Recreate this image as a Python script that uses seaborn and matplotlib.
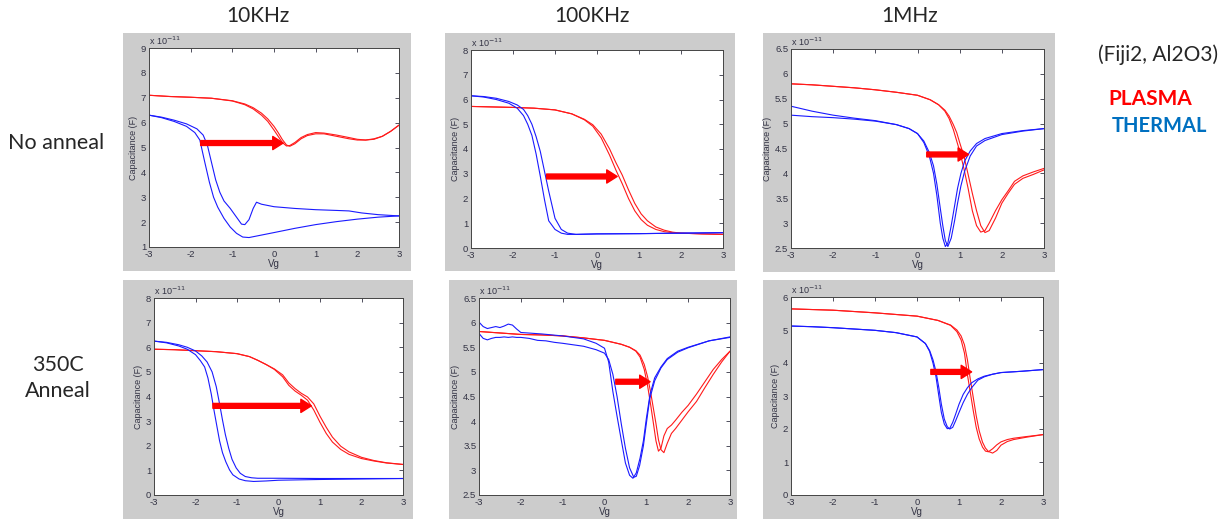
import numpy as np
import pandas as pd
import matplotlib
matplotlib.use('Agg')
import matplotlib.pyplot as plt
import seaborn as sns
from matplotlib.patches import Rectangle
from matplotlib.ticker import FormatStrFormatter

sns.set_style('white')
plt.rcParams['font.family'] = ['Liberation Sans', 'DejaVu Sans']

# ---------------- data (capacitance in units of 1e-11 F) ----------------
col_titles = ['10KHz', '100KHz', '1MHz']
row_titles = ['No anneal', '350C\nAnneal']

# Panel 1: 10KHz, no anneal
p1_red_x = [-3, -2.5, -2, -1.5, -1, -0.7, -0.5, -0.3, -0.15, 0, 0.1, 0.2, 0.3, 0.38, 0.5, 0.65, 0.8, 1.0, 1.2, 1.5, 1.8, 2.0, 2.2, 2.4, 2.6, 2.8, 3.0]
p1_red_a = [7.1, 7.05, 7.02, 6.98, 6.88, 6.75, 6.6, 6.38, 6.15, 5.85, 5.6, 5.32, 5.1, 5.05, 5.15, 5.35, 5.48, 5.55, 5.55, 5.45, 5.35, 5.3, 5.3, 5.35, 5.45, 5.65, 5.9]
p1_red_b = [7.1, 7.05, 7.02, 6.98, 6.87, 6.72, 6.55, 6.3, 6.05, 5.7, 5.45, 5.2, 5.06, 5.08, 5.2, 5.4, 5.52, 5.6, 5.58, 5.5, 5.4, 5.33, 5.3, 5.33, 5.45, 5.65, 5.9]
p1_blue_xa = [-3, -2.7, -2.4, -2.1, -1.9, -1.78, -1.66, -1.55, -1.45, -1.35, -1.2, -1.05, -0.9, -0.75, -0.6, -0.3, 0, 0.5, 1, 1.5, 2, 2.5, 3]
p1_blue_a = [6.3, 6.2, 6.05, 5.85, 5.6, 5.3, 4.4, 3.6, 3.0, 2.6, 2.15, 1.8, 1.55, 1.4, 1.38, 1.48, 1.58, 1.75, 1.9, 2.02, 2.12, 2.2, 2.25]
p1_blue_xb = [-3, -2.7, -2.4, -2.1, -1.85, -1.7, -1.6, -1.5, -1.4, -1.3, -1.2, -1.05, -0.9, -0.78, -0.7, -0.6, -0.5, -0.42, -0.3, 0, 0.5, 1, 1.5, 1.8, 2.1, 2.5, 3]
p1_blue_b = [6.3, 6.22, 6.1, 5.95, 5.75, 5.5, 5.1, 4.4, 3.7, 3.2, 2.85, 2.55, 2.2, 1.92, 1.9, 2.1, 2.55, 2.8, 2.72, 2.62, 2.55, 2.5, 2.47, 2.45, 2.37, 2.3, 2.25]
p1_arrow = (-1.76, 0.22, 5.18)

# Panel 2: 100KHz, no anneal
p2_red_x = [-3, -2.5, -2, -1.5, -1, -0.6, -0.3, -0.1, 0.1, 0.3, 0.45, 0.6, 0.75, 0.9, 1.05, 1.2, 1.4, 1.6, 1.8, 2.0, 2.5, 3.0]
p2_red_a = [5.72, 5.7, 5.68, 5.65, 5.58, 5.42, 5.2, 4.98, 4.6, 4.0, 3.45, 2.95, 2.35, 1.8, 1.38, 1.1, 0.85, 0.72, 0.64, 0.6, 0.57, 0.55]
p2_red_b = [5.72, 5.7, 5.68, 5.65, 5.58, 5.42, 5.18, 4.92, 4.45, 3.75, 3.15, 2.6, 2.0, 1.5, 1.15, 0.92, 0.75, 0.66, 0.62, 0.6, 0.57, 0.55]
p2_blue_x = [-3, -2.7, -2.4, -2.1, -1.9, -1.75, -1.65, -1.55, -1.45, -1.35, -1.25, -1.15, -1.0, -0.85, -0.7, -0.5, 0, 1, 2, 3]
p2_blue_a = [6.15, 6.1, 6.0, 5.85, 5.65, 5.35, 5.0, 4.55, 3.8, 2.9, 1.95, 1.1, 0.75, 0.6, 0.55, 0.55, 0.57, 0.58, 0.6, 0.62]
p2_blue_b = [6.15, 6.12, 6.05, 5.92, 5.78, 5.6, 5.35, 5.0, 4.5, 3.9, 3.1, 2.3, 1.2, 0.75, 0.6, 0.55, 0.57, 0.58, 0.6, 0.62]
p2_arrow = (-1.2, 0.48, 2.89)

# Panel 3: 1MHz, no anneal
p3_red_x = [-3, -2.5, -2, -1.5, -1, -0.5, 0, 0.3, 0.5, 0.65, 0.75, 0.85, 0.93, 1.0, 1.1, 1.2, 1.3, 1.4, 1.5, 1.6, 1.7, 1.85, 2.0, 2.15, 2.3, 2.5, 2.75, 3.0]
p3_red_a = [5.8, 5.78, 5.75, 5.72, 5.68, 5.63, 5.57, 5.48, 5.38, 5.25, 5.1, 4.88, 4.65, 4.45, 4.1, 3.7, 3.25, 2.95, 2.82, 2.85, 3.0, 3.25, 3.47, 3.65, 3.84, 3.95, 4.03, 4.1]
p3_red_b = [5.8, 5.78, 5.75, 5.72, 5.68, 5.63, 5.57, 5.48, 5.38, 5.27, 5.15, 4.98, 4.82, 4.62, 4.35, 3.98, 3.6, 3.25, 2.95, 2.81, 2.85, 3.1, 3.4, 3.6, 3.78, 3.9, 3.98, 4.07]
p3_blue_x = [-3, -2.5, -2, -1.5, -1, -0.5, -0.2, 0, 0.15, 0.28, 0.38, 0.46, 0.54, 0.6, 0.66, 0.72, 0.8, 0.88, 0.95, 1.03, 1.12, 1.25, 1.4, 1.6, 2.0, 2.5, 3.0]
p3_blue_a = [5.35, 5.25, 5.17, 5.11, 5.06, 4.98, 4.9, 4.8, 4.62, 4.35, 4.0, 3.55, 3.0, 2.7, 2.53, 2.6, 2.95, 3.35, 3.7, 4.0, 4.25, 4.45, 4.6, 4.7, 4.8, 4.86, 4.9]
p3_blue_b = [5.17, 5.14, 5.12, 5.09, 5.05, 4.98, 4.9, 4.8, 4.65, 4.42, 4.15, 3.78, 3.3, 2.95, 2.65, 2.53, 2.7, 3.05, 3.4, 3.75, 4.05, 4.35, 4.55, 4.66, 4.78, 4.85, 4.9]
p3_arrow = (0.22, 1.21, 4.38)

# Panel 4: 10KHz, 350C anneal
p4_red_x = [-3, -2.5, -2, -1.5, -1, -0.7, -0.5, -0.3, -0.1, 0.1, 0.25, 0.4, 0.55, 0.7, 0.85, 1.0, 1.15, 1.3, 1.5, 1.7, 2.0, 2.3, 2.6, 3.0]
p4_red_a = [5.92, 5.9, 5.86, 5.82, 5.74, 5.62, 5.47, 5.3, 5.1, 4.8, 4.45, 4.22, 4.05, 3.85, 3.45, 2.95, 2.5, 2.15, 1.85, 1.65, 1.48, 1.38, 1.3, 1.24]
p4_red_b = [5.92, 5.9, 5.86, 5.82, 5.74, 5.62, 5.47, 5.3, 5.12, 4.88, 4.55, 4.32, 4.13, 3.98, 3.7, 3.2, 2.75, 2.35, 1.98, 1.75, 1.53, 1.4, 1.31, 1.24]
p4_blue_xa = [-3, -2.7, -2.4, -2.2, -2.0, -1.88, -1.78, -1.7, -1.62, -1.55, -1.48, -1.42, -1.35, -1.27, -1.18, -1.1, -0.95, -0.8, -0.6, -0.3, 0, 1, 2, 3]
p4_blue_a = [6.25, 6.18, 6.05, 5.92, 5.7, 5.45, 5.2, 4.75, 4.1, 3.4, 2.75, 2.2, 1.72, 1.35, 1.02, 0.82, 0.65, 0.58, 0.55, 0.57, 0.6, 0.63, 0.65, 0.67]
p4_blue_xb = [-3, -2.7, -2.4, -2.2, -2.0, -1.85, -1.72, -1.6, -1.5, -1.42, -1.35, -1.28, -1.2, -1.12, -1.02, -0.92, -0.8, -0.65, -0.5, -0.3, 0, 1, 2, 3]
p4_blue_b = [6.25, 6.2, 6.1, 6.0, 5.85, 5.65, 5.4, 5.0, 4.4, 3.7, 3.05, 2.45, 1.9, 1.45, 1.1, 0.88, 0.75, 0.7, 0.68, 0.68, 0.68, 0.67, 0.67, 0.67]
p4_arrow = (-1.58, 0.79, 3.62)

# Panel 5: 100KHz, 350C anneal
p5_red_x = [-3, -2.5, -2, -1.5, -1, -0.5, 0, 0.4, 0.6, 0.75, 0.85, 0.95, 1.03, 1.1, 1.17, 1.23, 1.29, 1.35, 1.42, 1.5, 1.6, 1.7, 1.85, 2.0, 2.2, 2.4, 2.6, 2.8, 3.0]
p5_red_a = [5.82, 5.79, 5.76, 5.75, 5.73, 5.69, 5.64, 5.56, 5.5, 5.42, 5.3, 5.05, 4.72, 4.35, 3.95, 3.6, 3.39, 3.45, 3.7, 3.85, 3.92, 4.02, 4.18, 4.32, 4.55, 4.8, 5.05, 5.25, 5.42]
p5_red_b = [5.82, 5.79, 5.76, 5.75, 5.73, 5.69, 5.64, 5.56, 5.5, 5.43, 5.34, 5.15, 4.9, 4.6, 4.25, 3.95, 3.62, 3.42, 3.36, 3.55, 3.75, 3.85, 4.02, 4.19, 4.4, 4.68, 4.95, 5.2, 5.42]
p5_blue_xa = [-3, -2.9, -2.8, -2.7, -2.6, -2.5, -2.4, -2.3, -2.2, -2.1, -2.0, -1.5, -1.0, -0.5, -0.2, 0, 0.1, 0.2, 0.3, 0.4, 0.5, 0.6, 0.68, 0.76, 0.85, 0.93, 1.0, 1.09, 1.2, 1.35, 1.5, 1.75, 2.0, 2.5, 3.0]
p5_blue_a = [6.01, 5.92, 5.88, 5.9, 5.92, 5.9, 5.93, 5.97, 5.95, 5.87, 5.8, 5.77, 5.73, 5.67, 5.58, 5.48, 5.2, 4.6, 4.1, 3.62, 3.15, 2.9, 2.84, 2.95, 3.25, 3.6, 4.05, 4.55, 4.88, 5.1, 5.27, 5.42, 5.5, 5.63, 5.71]
p5_blue_xb = [-3, -2.9, -2.8, -2.7, -2.6, -2.5, -2.4, -2.3, -2.2, -2.1, -2.0, -1.8, -1.6, -1.4, -1.2, -1.0, -0.5, -0.2, 0, 0.1, 0.2, 0.3, 0.4, 0.5, 0.6, 0.7, 0.76, 0.84, 0.93, 1.0, 1.08, 1.2, 1.35, 1.5, 1.75, 2.0, 2.5, 3.0]
p5_blue_b = [5.78, 5.68, 5.65, 5.68, 5.7, 5.7, 5.71, 5.7, 5.71, 5.7, 5.7, 5.68, 5.64, 5.63, 5.6, 5.58, 5.52, 5.45, 5.38, 5.25, 4.95, 4.5, 3.95, 3.45, 3.05, 2.86, 2.88, 3.1, 3.5, 3.95, 4.45, 4.82, 5.08, 5.25, 5.4, 5.49, 5.63, 5.7]
p5_arrow = (0.27, 1.09, 4.8)

# Panel 6: 1MHz, 350C anneal
p6_red_x = [-3, -2.5, -2, -1.5, -1, -0.5, 0, 0.5, 0.8, 0.95, 1.05, 1.13, 1.2, 1.27, 1.34, 1.41, 1.48, 1.56, 1.63, 1.7, 1.8, 1.9, 2.0, 2.15, 2.3, 2.6, 3.0]
p6_red_a = [5.64, 5.62, 5.6, 5.56, 5.52, 5.47, 5.42, 5.29, 5.14, 4.95, 4.7, 4.3, 3.65, 3.1, 2.55, 2.05, 1.7, 1.45, 1.33, 1.31, 1.4, 1.52, 1.61, 1.68, 1.72, 1.77, 1.83]
p6_red_b = [5.64, 5.62, 5.6, 5.56, 5.52, 5.47, 5.42, 5.29, 5.15, 5.0, 4.82, 4.55, 4.1, 3.5, 2.95, 2.4, 1.95, 1.6, 1.42, 1.32, 1.27, 1.35, 1.51, 1.62, 1.68, 1.75, 1.83]
p6_blue_x = [-3, -2.5, -2, -1.5, -1, -0.5, 0, 0.2, 0.3, 0.38, 0.45, 0.52, 0.58, 0.65, 0.72, 0.78, 0.85, 0.92, 1.0, 1.1, 1.2, 1.3, 1.45, 1.6, 1.8, 2.0, 2.5, 3.0]
p6_blue_a = [5.12, 5.1, 5.07, 5.03, 4.99, 4.92, 4.79, 4.59, 4.35, 4.0, 3.6, 3.0, 2.5, 2.15, 2.01, 2.02, 2.2, 2.45, 2.75, 3.05, 3.25, 3.4, 3.52, 3.6, 3.66, 3.71, 3.75, 3.8]
p6_blue_b = [5.12, 5.1, 5.07, 5.03, 4.99, 4.92, 4.79, 4.59, 4.38, 4.1, 3.75, 3.25, 2.75, 2.3, 2.07, 2.0, 2.05, 2.25, 2.5, 2.8, 3.05, 3.25, 3.48, 3.58, 3.66, 3.71, 3.75, 3.8]
p6_arrow = (0.33, 1.3, 3.73)

y_limits = [(1, 9), (0, 8), (2.5, 6.5), (0, 8), (2.5, 6.5), (0, 6)]
y_steps = [1, 1, 0.5, 1, 0.5, 1]

panels = [
    [(p1_red_x, p1_red_a, 'PLASMA'), (p1_red_x, p1_red_b, 'PLASMA'), (p1_blue_xa, p1_blue_a, 'THERMAL'), (p1_blue_xb, p1_blue_b, 'THERMAL')],
    [(p2_red_x, p2_red_a, 'PLASMA'), (p2_red_x, p2_red_b, 'PLASMA'), (p2_blue_x, p2_blue_a, 'THERMAL'), (p2_blue_x, p2_blue_b, 'THERMAL')],
    [(p3_red_x, p3_red_a, 'PLASMA'), (p3_red_x, p3_red_b, 'PLASMA'), (p3_blue_x, p3_blue_a, 'THERMAL'), (p3_blue_x, p3_blue_b, 'THERMAL')],
    [(p4_red_x, p4_red_a, 'PLASMA'), (p4_red_x, p4_red_b, 'PLASMA'), (p4_blue_xa, p4_blue_a, 'THERMAL'), (p4_blue_xb, p4_blue_b, 'THERMAL')],
    [(p5_red_x, p5_red_a, 'PLASMA'), (p5_red_x, p5_red_b, 'PLASMA'), (p5_blue_xa, p5_blue_a, 'THERMAL'), (p5_blue_xb, p5_blue_b, 'THERMAL')],
    [(p6_red_x, p6_red_a, 'PLASMA'), (p6_red_x, p6_red_b, 'PLASMA'), (p6_blue_x, p6_blue_a, 'THERMAL'), (p6_blue_x, p6_blue_b, 'THERMAL')],
]
arrows = [p1_arrow, p2_arrow, p3_arrow, p4_arrow, p5_arrow, p6_arrow]

# ---------------- layout (pixels) ----------------
W, H = 1231, 519
gray_boxes = [(123, 33, 411, 271), (445, 33, 735, 271), (763, 33, 1055, 272),
              (123, 280, 413, 519), (449, 280, 737, 519), (763, 280, 1059, 519)]
axes_boxes = [(149, 48, 399, 247), (471, 50, 723, 248), (791, 49, 1044, 248),
              (154, 298, 403, 495), (479, 298, 730, 495), (791, 297, 1043, 495)]

fig = plt.figure(figsize=(W / 100, H / 100), dpi=100)
fig.patch.set_facecolor('white')

for (l, t, r, b) in gray_boxes:
    fig.add_artist(Rectangle((l / W, 1 - b / H), (r - l) / W, (b - t) / H,
                             transform=fig.transFigure, facecolor='#cccccc',
                             edgecolor='none', zorder=0))

palette = {'PLASMA': '#ff1a1a', 'THERMAL': '#1a1aff'}
tick_col = '#333344'

for i, (box, curves) in enumerate(zip(axes_boxes, panels)):
    l, t, r, b = box
    ax = fig.add_axes([l / W, 1 - b / H, (r - l) / W, (b - t) / H])
    ax.set_facecolor('white')
    rows = []
    for k, (xs, ys, name) in enumerate(curves):
        for xv, yv in zip(xs, ys):
            rows.append({'Vg': xv, 'C': yv, 'sample': name, 'sweep': k})
    df = pd.DataFrame(rows)
    sns.lineplot(data=df, x='Vg', y='C', hue='sample', units='sweep',
                 estimator=None, sort=False, palette=palette, lw=0.8,
                 legend=False, ax=ax)
    ylo, yhi = y_limits[i]
    ax.set_xlim(-3, 3)
    ax.set_ylim(ylo, yhi)
    ax.set_xticks(range(-3, 4))
    ax.set_yticks(np.arange(ylo, yhi + 1e-9, y_steps[i]))
    ax.xaxis.set_major_formatter(FormatStrFormatter('%g'))
    ax.yaxis.set_major_formatter(FormatStrFormatter('%g'))
    ax.tick_params(direction='in', length=3, width=0.6, labelsize=6.8,
                   colors=tick_col, top=True, right=True, pad=2)
    for s in ax.spines.values():
        s.set_color('#444444')
        s.set_linewidth(0.7)
    ax.set_xlabel('Vg', fontsize=7, color=tick_col, labelpad=0)
    ax.set_ylabel('Capacitance (F)', fontsize=6.5, color=tick_col, labelpad=2)
    ax.text(0.0, 1.005, r'x 10$^{-11}$', transform=ax.transAxes, fontsize=6.5,
            color=tick_col, ha='left', va='bottom')
    x0, x1, ya = arrows[i]
    ax.annotate('', xy=(x1, ya), xytext=(x0, ya),
                arrowprops=dict(facecolor='#ff0000', edgecolor='#ff0000',
                                width=3.5, headwidth=9.5, headlength=7.5, shrink=0))

label_font = ['Lato', 'DejaVu Sans']
for x, txt in zip([258, 592, 910], col_titles):
    fig.text(x / W, 1 - 16 / H, txt, ha='center', va='center', fontsize=15, family=label_font)
fig.text(56 / W, 1 - 143 / H, row_titles[0], ha='center', va='center', fontsize=15.5, family=label_font)
fig.text(58 / W, 1 - 378 / H, row_titles[1], ha='center', va='center', fontsize=15.5,
         family=label_font, linespacing=1.4)
fig.text(1158 / W, 1 - 55 / H, '(Fiji2, Al2O3)', ha='center', va='center', fontsize=15, family=label_font)
fig.text(1150 / W, 1 - 99 / H, 'PLASMA', ha='center', va='center', fontsize=15,
         family=label_font, weight='bold', color='#ff0000')
fig.text(1159 / W, 1 - 126 / H, 'THERMAL', ha='center', va='center', fontsize=14.5,
         family=label_font, weight='bold', color='#0070c0')

fig.savefig('out.png', dpi=100)
